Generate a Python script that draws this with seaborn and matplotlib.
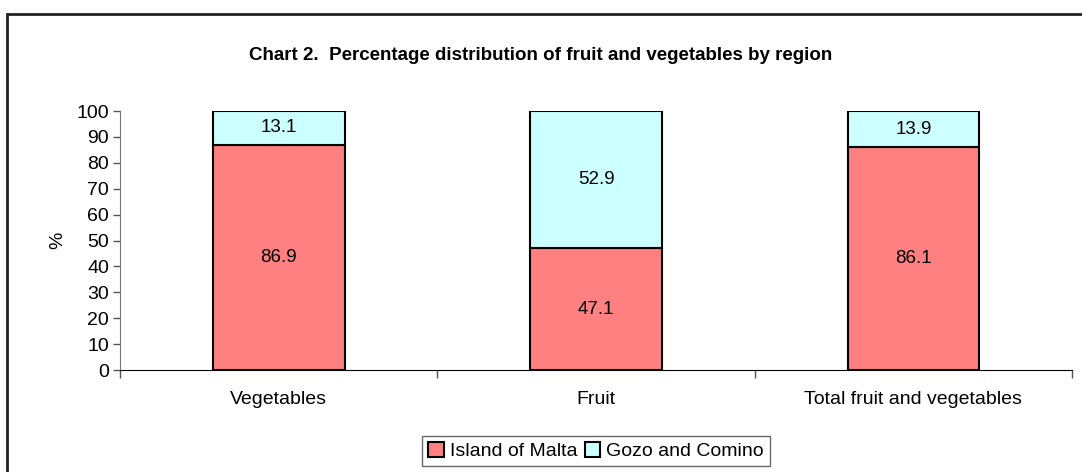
import pandas as pd
import seaborn as sns
import matplotlib.pyplot as plt
from matplotlib.patches import Rectangle

# data
categories = ['Vegetables', 'Fruit', 'Total fruit and vegetables']
malta = [86.9, 47.1, 86.1]
gozo = [13.1, 52.9, 13.9]
y_ticks = [0, 10, 20, 30, 40, 50, 60, 70, 80, 90, 100]

malta_col = '#FF8080'
gozo_col = '#CCFFFF'

sns.set_style('white')
plt.rcParams['font.family'] = ['Liberation Sans', 'DejaVu Sans']
plt.rcParams['text.color'] = 'black'
plt.rcParams['xtick.color'] = 'black'
plt.rcParams['ytick.color'] = 'black'
plt.rcParams['axes.labelcolor'] = 'black'

df = pd.DataFrame({'cat': categories, 'malta': malta, 'gozo': gozo})

fig = plt.figure(figsize=(10.82, 4.72), dpi=100)
ax = fig.add_axes([0.1109, 0.2161, 0.8799, 0.5487])

# outer frame of the chart area
fig.patches.append(Rectangle((7 / 1082, -0.05), 1.1, 1 - 14 / 472 + 0.05,
                             transform=fig.transFigure, fill=False,
                             edgecolor='#222222', linewidth=2, zorder=0))

sns.barplot(data=df, x='cat', y='malta', color=malta_col, width=0.415,
            edgecolor='black', linewidth=1.5, saturation=1, ax=ax,
            label='Island of Malta')
sns.barplot(data=df, x='cat', y='gozo', bottom=df['malta'], color=gozo_col,
            width=0.415, edgecolor='black', linewidth=1.5, saturation=1,
            ax=ax, label='Gozo and Comino')

for i in range(len(categories)):
    ax.text(i, malta[i] / 2, f'{malta[i]:.1f}', ha='center', va='center', fontsize=13.5)
    ax.text(i, malta[i] + gozo[i] / 2, f'{gozo[i]:.1f}', ha='center', va='center', fontsize=13.5)

ax.set_xlim(-0.5, len(categories) - 0.5)
ax.set_ylim(0, 100)
ax.set_yticks(y_ticks)
ax.set_xticks(range(len(categories)))
ax.set_xticklabels(categories, fontsize=14)
ax.tick_params(axis='x', length=0, pad=15)
ax.tick_params(axis='y', labelsize=14, length=5, width=1, left=True, color='#555555', pad=3)
# category boundary ticks
ax.set_xticks([-0.5, 0.5, 1.5, 2.5], minor=True)
ax.tick_params(axis='x', which='minor', length=6, width=1, bottom=True, color='#555555')

ax.set_xlabel('')
ax.set_ylabel('%', fontsize=14)
ax.yaxis.set_label_coords(-54 / 952, 0.5)
for s in ['top', 'right']:
    ax.spines[s].set_visible(False)
ax.spines['left'].set_color('#777777')
ax.spines['bottom'].set_color('black')

fig.text(0.5, 1 - 55 / 472, 'Chart 2.  Percentage distribution of fruit and vegetables by region',
         ha='center', va='center', fontsize=13.5, fontweight='bold')

leg = ax.legend(loc='center', bbox_to_anchor=(0.5, (370 - 451) / 259), ncol=2,
                frameon=True, fancybox=False, edgecolor='#444444', fontsize=14,
                handlelength=0.8, handleheight=0.8, handletextpad=0.3,
                columnspacing=0.4, borderpad=0.3, borderaxespad=0)
leg.get_frame().set_linewidth(1)

fig.savefig('out.png', dpi=100)
